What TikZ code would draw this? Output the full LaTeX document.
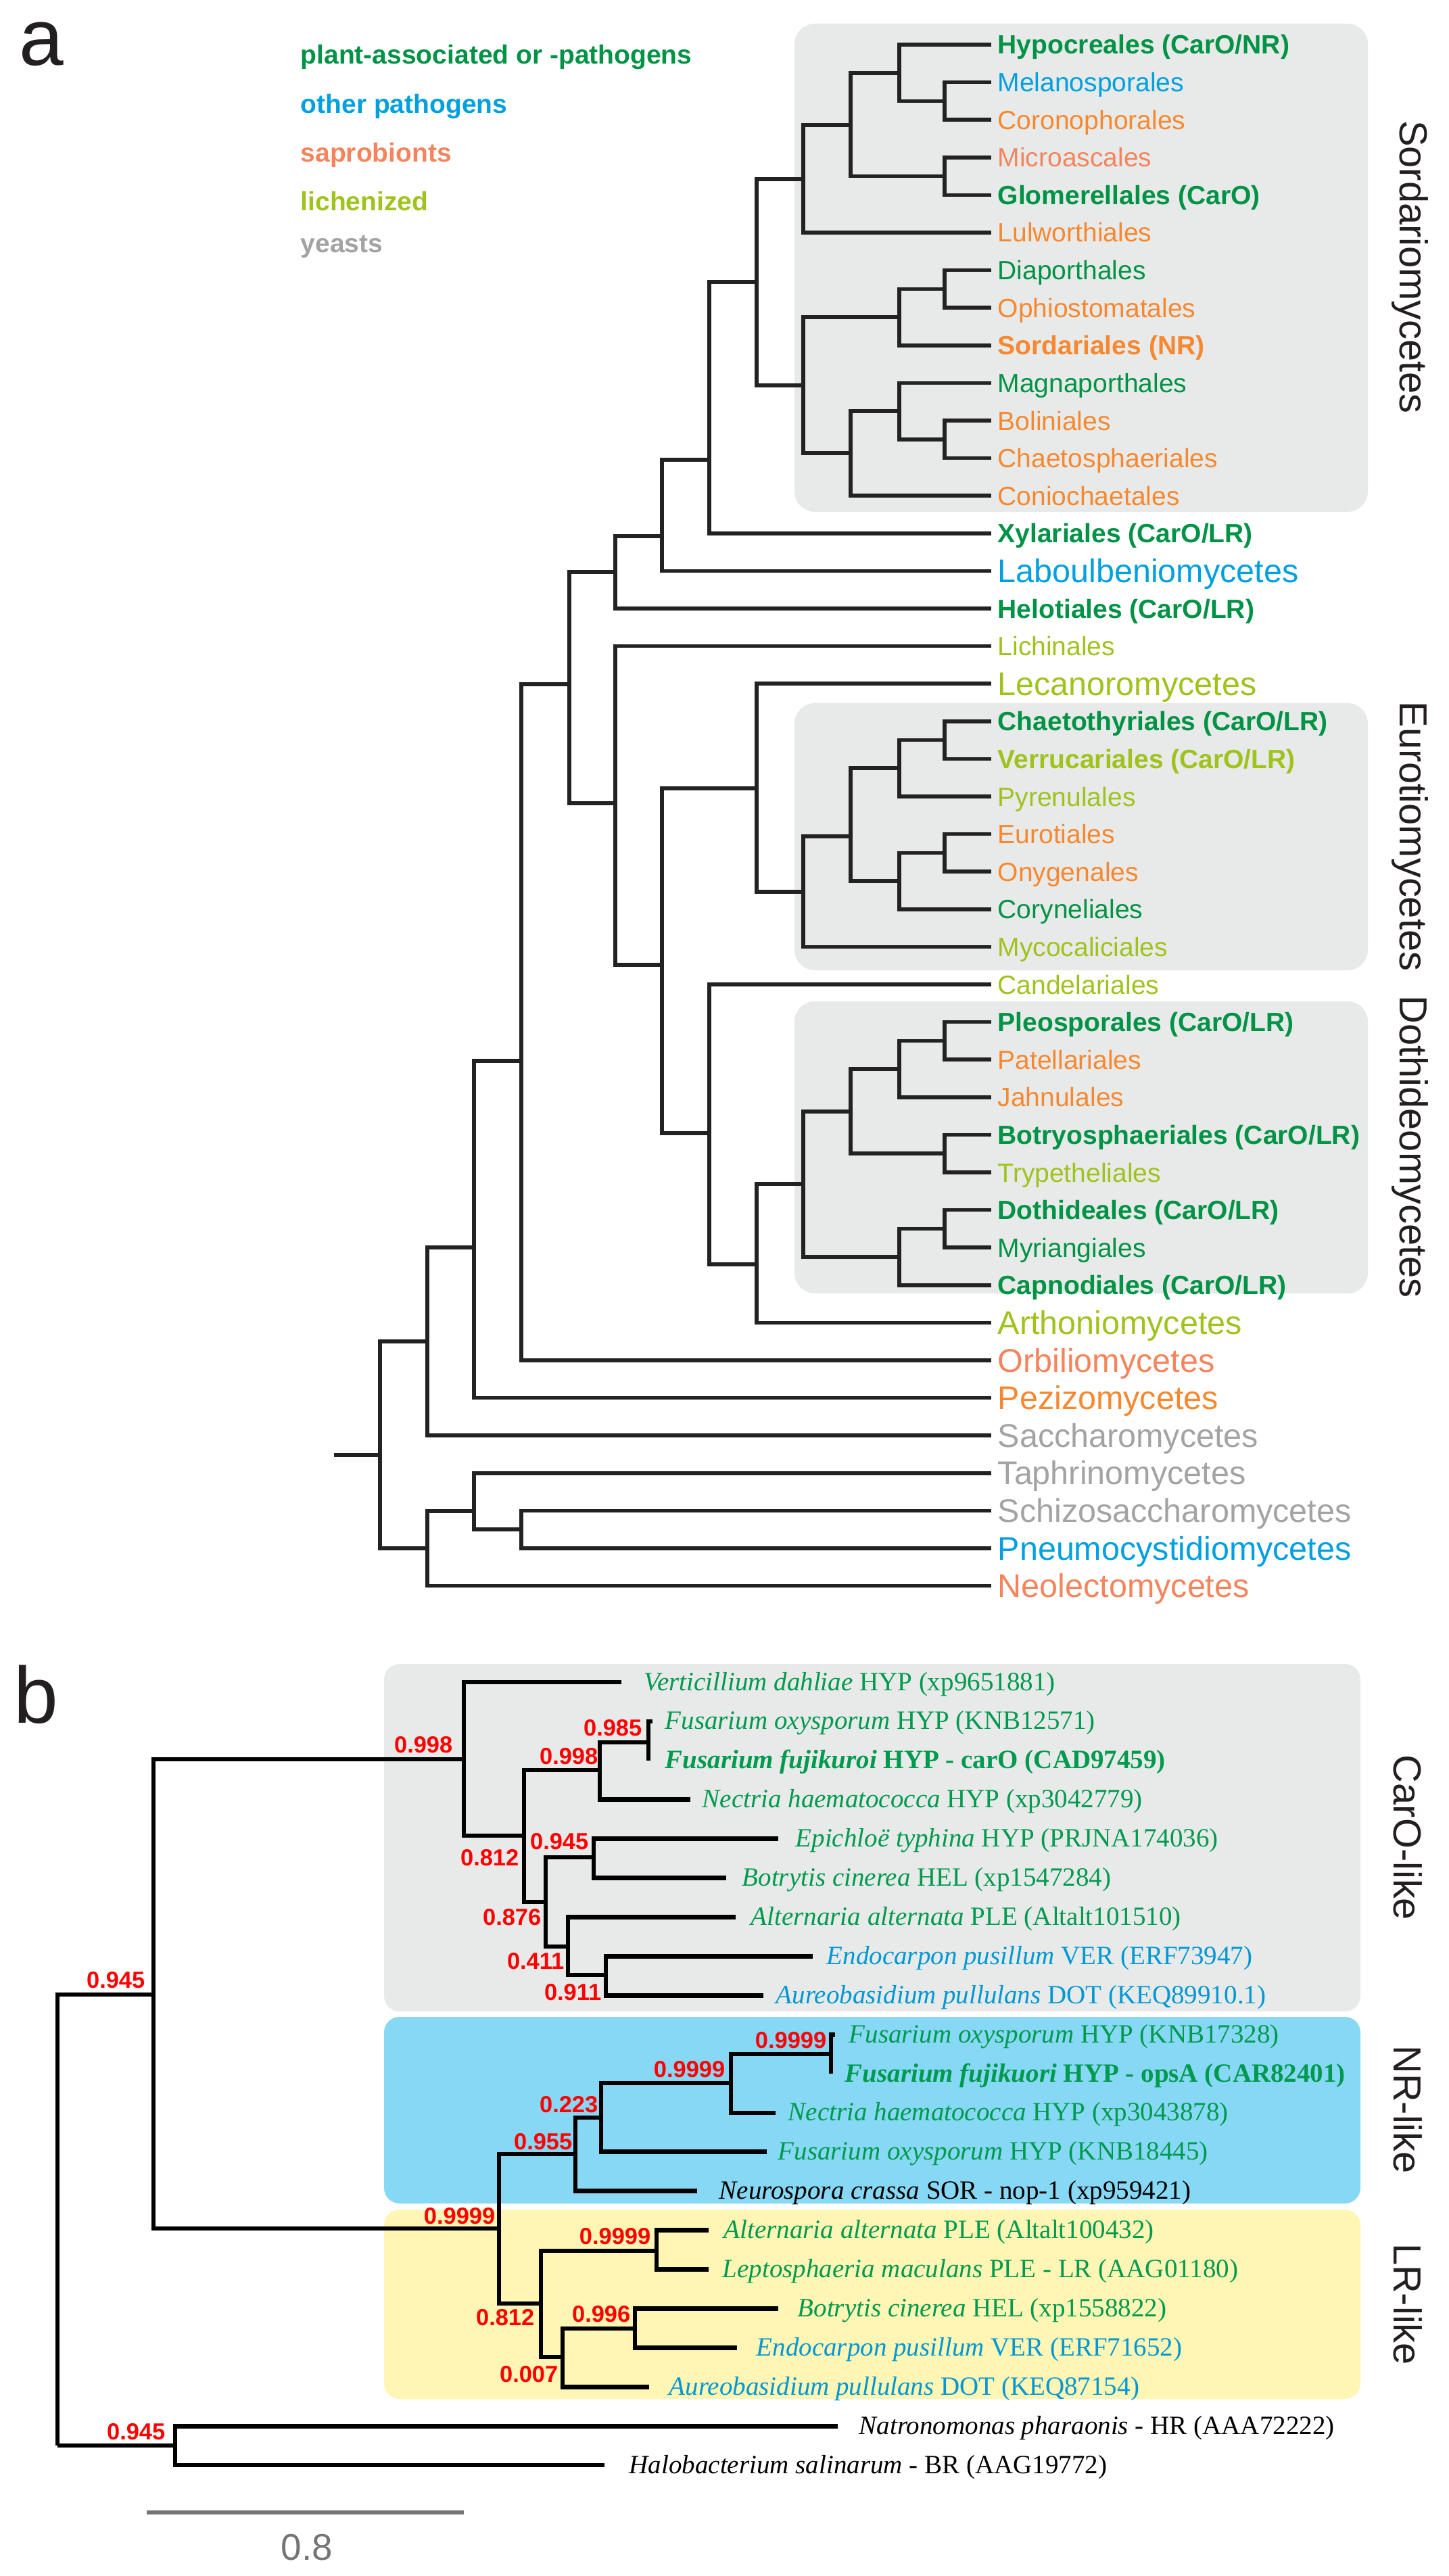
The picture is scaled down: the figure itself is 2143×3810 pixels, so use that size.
\documentclass[tikz,border=0pt]{standalone}
\usepackage{fontspec}
\setmainfont{Liberation Serif}
\newfontfamily\arialf{Liberation Sans}
\definecolor{cgreen}{HTML}{009245}
\definecolor{cblue}{HTML}{00A0DF}
\definecolor{corange}{HTML}{F7882F}
\definecolor{csalmon}{HTML}{F5845C}
\definecolor{clichen}{HTML}{9FC31C}
\definecolor{cyeast}{HTML}{A3A3A3}
\definecolor{bgreen}{HTML}{009A4E}
\definecolor{bblue}{HTML}{0098D4}
\definecolor{boxgray}{HTML}{E8EAE9}
\definecolor{boxblue}{HTML}{87D8F5}
\definecolor{boxyellow}{HTML}{FFF5B4}
\definecolor{treegray}{HTML}{222222}
\definecolor{darktext}{HTML}{231F20}
\definecolor{scalegray}{HTML}{757575}
\newcommand{\aleaf}[4]{\coordinate (a#1) at (1466,#2); \node[#3] (la#1) at (1475,#2) {#4};}
\newcommand{\bleaf}[6]{\coordinate (b#1) at (#2,#3); \node[#5] (lb#1) at (#4,#3) {#6};}
\begin{document}
\begin{tikzpicture}[x=0.1mm,y=-0.1mm,
  treeA/.style={line width=0.56mm, draw=treegray},
  treeB/.style={line width=0.68mm, draw=black},
  ordA/.style={anchor=base west, inner sep=0pt, yshift=-1.4mm, font=\arialf\fontsize{11.1}{13}\selectfont},
  ordAb/.style={anchor=base west, inner sep=0pt, yshift=-1.4mm, font=\arialf\bfseries\fontsize{11.1}{13}\selectfont},
  clsA/.style={anchor=base west, inner sep=0pt, yshift=-1.7mm, font=\arialf\fontsize{13.8}{16}\selectfont},
  legA/.style={anchor=base west, inner sep=0pt, font=\arialf\bfseries\fontsize{11.1}{13}\selectfont},
  grpA/.style={rotate=-90, anchor=base, inner sep=0pt, text=darktext, font=\arialf\fontsize{16.45}{19}\selectfont},
  panel/.style={anchor=base west, inner sep=0pt, text=darktext, font=\arialf\fontsize{33.6}{40}\selectfont},
  lbB/.style={anchor=base west, inner sep=0pt, yshift=-1.2mm, font=\fontsize{11.1}{13}\selectfont},
  lbBb/.style={anchor=base west, inner sep=0pt, yshift=-1.2mm, font=\bfseries\fontsize{11.1}{13}\selectfont},
  bs/.style={anchor=east, inner sep=0pt, text=red, font=\arialf\bfseries\fontsize{9.8}{11}\selectfont}
]
\useasboundingbox (0,0) rectangle (2143,3810);

% ---------------- panel a ----------------
\fill[boxgray, rounded corners=3mm] (1175,35) rectangle (2023,757);
\fill[boxgray, rounded corners=3mm] (1175,1040) rectangle (2023,1435);
\fill[boxgray, rounded corners=3mm] (1175,1481) rectangle (2023,1913);

\node[panel] (pa) at (28,97) {a};
\node[legA, text=cgreen] (leg1) at (444,95) {plant-associated or -pathogens};
\node[legA, text=cblue] (leg2) at (444,168) {other pathogens};
\node[legA, text=csalmon] (leg3) at (444,240) {saprobionts};
\node[legA, text=clichen] (leg4) at (444,312) {lichenized};
\node[legA, text=cyeast] (leg5) at (444,374) {yeasts};

\aleaf{0}{66.0}{ordAb,text=cgreen}{Hypocreales (CarO/NR)}
\aleaf{1}{121.6}{ordA,text=cblue}{Melanosporales}
\aleaf{2}{177.2}{ordA,text=corange}{Coronophorales}
\aleaf{3}{232.8}{ordA,text=csalmon}{Microascales}
\aleaf{4}{288.4}{ordAb,text=cgreen}{Glomerellales (CarO)}
\aleaf{5}{344.0}{ordA,text=corange}{Lulworthiales}
\aleaf{6}{399.6}{ordA,text=cgreen}{Diaporthales}
\aleaf{7}{455.2}{ordA,text=corange}{Ophiostomatales}
\aleaf{8}{510.8}{ordAb,text=corange}{Sordariales (NR)}
\aleaf{9}{566.4}{ordA,text=cgreen}{Magnaporthales}
\aleaf{10}{622.0}{ordA,text=corange}{Boliniales}
\aleaf{11}{677.6}{ordA,text=corange}{Chaetosphaeriales}
\aleaf{12}{733.2}{ordA,text=corange}{Coniochaetales}
\aleaf{13}{788.8}{ordAb,text=cgreen}{Xylariales (CarO/LR)}
\aleaf{14}{844.4}{clsA,text=cblue}{Laboulbeniomycetes}
\aleaf{15}{900.0}{ordAb,text=cgreen}{Helotiales (CarO/LR)}
\aleaf{16}{955.6}{ordA,text=clichen}{Lichinales}
\aleaf{17}{1011.2}{clsA,text=clichen}{Lecanoromycetes}
\aleaf{18}{1066.8}{ordAb,text=cgreen}{Chaetothyriales (CarO/LR)}
\aleaf{19}{1122.4}{ordAb,text=clichen}{Verrucariales (CarO/LR)}
\aleaf{20}{1178.0}{ordA,text=clichen}{Pyrenulales}
\aleaf{21}{1233.6}{ordA,text=corange}{Eurotiales}
\aleaf{22}{1289.2}{ordA,text=corange}{Onygenales}
\aleaf{23}{1344.8}{ordA,text=cgreen}{Coryneliales}
\aleaf{24}{1400.4}{ordA,text=clichen}{Mycocaliciales}
\aleaf{25}{1456.0}{ordA,text=clichen}{Candelariales}
\aleaf{26}{1511.6}{ordAb,text=cgreen}{Pleosporales (CarO/LR)}
\aleaf{27}{1567.2}{ordA,text=corange}{Patellariales}
\aleaf{28}{1622.8}{ordA,text=corange}{Jahnulales}
\aleaf{29}{1678.4}{ordAb,text=cgreen}{Botryosphaeriales (CarO/LR)}
\aleaf{30}{1734.0}{ordA,text=clichen}{Trypetheliales}
\aleaf{31}{1789.6}{ordAb,text=cgreen}{Dothideales (CarO/LR)}
\aleaf{32}{1845.2}{ordA,text=cgreen}{Myriangiales}
\aleaf{33}{1900.8}{ordAb,text=cgreen}{Capnodiales (CarO/LR)}
\aleaf{34}{1956.4}{clsA,text=clichen}{Arthoniomycetes}
\aleaf{35}{2012.0}{clsA,text=csalmon}{Orbiliomycetes}
\aleaf{36}{2067.6}{clsA,text=corange}{Pezizomycetes}
\aleaf{37}{2123.2}{clsA,text=cyeast}{Saccharomycetes}
\aleaf{38}{2178.8}{clsA,text=cyeast}{Taphrinomycetes}
\aleaf{39}{2234.4}{clsA,text=cyeast}{Schizosaccharomycetes}
\aleaf{40}{2290.0}{clsA,text=cblue}{Pneumocystidiomycetes}
\aleaf{41}{2345.6}{clsA,text=csalmon}{Neolectomycetes}

\coordinate (nMC) at (1397,149.4);
\coordinate (nHMC) at (1330,108);
\coordinate (nMG) at (1397,260.6);
\coordinate (nS3) at (1258,185);
\coordinate (nS2) at (1188,265);
\coordinate (nDO) at (1397,427.4);
\coordinate (nDOS) at (1330,469);
\coordinate (nBC) at (1397,649.8);
\coordinate (nMBC) at (1330,608);
\coordinate (nMBCC) at (1258,670);
\coordinate (nS2b) at (1188,570);
\coordinate (nA) at (1119,417);
\coordinate (nB) at (1049,680);
\coordinate (nC) at (979,793);
\coordinate (nD) at (910,846);
\coordinate (nCV) at (1397,1094.6);
\coordinate (nCVP) at (1330,1136);
\coordinate (nEO) at (1397,1261.4);
\coordinate (nEOC) at (1330,1303);
\coordinate (nE3) at (1258,1237);
\coordinate (nE2) at (1188,1319);
\coordinate (nE1) at (1119,1166);
\coordinate (nPP) at (1397,1539.4);
\coordinate (nPPJ) at (1330,1581);
\coordinate (nBT) at (1397,1706.2);
\coordinate (nD3) at (1258,1644);
\coordinate (nDM) at (1397,1817.4);
\coordinate (nDMC) at (1330,1859);
\coordinate (nD2) at (1188,1751);
\coordinate (nD1) at (1119,1870);
\coordinate (nF) at (1049,1676);
\coordinate (nG) at (979,1427);
\coordinate (nH) at (910,1188);
\coordinate (nI) at (842,1012);
\coordinate (nJ) at (771,1569);
\coordinate (nK) at (701,1845);
\coordinate (nL) at (632,1984);
\coordinate (nSP) at (771,2262);
\coordinate (nTSP) at (701,2235);
\coordinate (nN) at (632,2290);
\coordinate (nR) at (562,2152);
\coordinate (nStub) at (494,2152);

\begin{scope}[treeA]
\draw (a1) -| (nMC); \draw (a2) -| (nMC);
\draw (a0) -| (nHMC); \draw (nMC) -| (nHMC);
\draw (a3) -| (nMG); \draw (a4) -| (nMG);
\draw (nHMC) -| (nS3); \draw (nMG) -| (nS3);
\draw (nS3) -| (nS2); \draw (a5) -| (nS2);
\draw (a6) -| (nDO); \draw (a7) -| (nDO);
\draw (nDO) -| (nDOS); \draw (a8) -| (nDOS);
\draw (a10) -| (nBC); \draw (a11) -| (nBC);
\draw (a9) -| (nMBC); \draw (nBC) -| (nMBC);
\draw (nMBC) -| (nMBCC); \draw (a12) -| (nMBCC);
\draw (nDOS) -| (nS2b); \draw (nMBCC) -| (nS2b);
\draw (nS2) -| (nA); \draw (nS2b) -| (nA);
\draw (nA) -| (nB); \draw (a13) -| (nB);
\draw (nB) -| (nC); \draw (a14) -| (nC);
\draw (nC) -| (nD); \draw (a15) -| (nD);
\draw (a18) -| (nCV); \draw (a19) -| (nCV);
\draw (nCV) -| (nCVP); \draw (a20) -| (nCVP);
\draw (a21) -| (nEO); \draw (a22) -| (nEO);
\draw (nEO) -| (nEOC); \draw (a23) -| (nEOC);
\draw (nCVP) -| (nE3); \draw (nEOC) -| (nE3);
\draw (nE3) -| (nE2); \draw (a24) -| (nE2);
\draw (a17) -| (nE1); \draw (nE2) -| (nE1);
\draw (a26) -| (nPP); \draw (a27) -| (nPP);
\draw (nPP) -| (nPPJ); \draw (a28) -| (nPPJ);
\draw (a29) -| (nBT); \draw (a30) -| (nBT);
\draw (nPPJ) -| (nD3); \draw (nBT) -| (nD3);
\draw (a31) -| (nDM); \draw (a32) -| (nDM);
\draw (nDM) -| (nDMC); \draw (a33) -| (nDMC);
\draw (nD3) -| (nD2); \draw (nDMC) -| (nD2);
\draw (nD2) -| (nD1); \draw (a34) -| (nD1);
\draw (a25) -| (nF); \draw (nD1) -| (nF);
\draw (nE1) -| (nG); \draw (nF) -| (nG);
\draw (a16) -| (nH); \draw (nG) -| (nH);
\draw (nD) -| (nI); \draw (nH) -| (nI);
\draw (nI) -| (nJ); \draw (a35) -| (nJ);
\draw (nJ) -| (nK); \draw (a36) -| (nK);
\draw (nK) -| (nL); \draw (a37) -| (nL);
\draw (a39) -| (nSP); \draw (a40) -| (nSP);
\draw (a38) -| (nTSP); \draw (nSP) -| (nTSP);
\draw (nTSP) -| (nN); \draw (a41) -| (nN);
\draw (nL) -| (nR); \draw (nN) -| (nR);
\draw (nStub) -- (nR);
\end{scope}

\node[grpA] (gS) at (2070,395) {Sordariomycetes};
\node[grpA] (gE) at (2070,1237) {Eurotiomycetes};
\node[grpA] (gD) at (2070,1696) {Dothideomycetes};

% ---------------- panel b ----------------
\fill[boxgray, rounded corners=2.3mm] (568,2461) rectangle (2012,2975);
\fill[boxblue, rounded corners=2.3mm] (568,2983) rectangle (2012,3259);
\fill[boxyellow, rounded corners=2.3mm] (568,3268) rectangle (2012,3548);

\node[panel] (pb) at (20,2548) {b};

\bleaf{0}{919}{2488.0}{952}{lbB,text=bgreen}{\textit{Verticillium dahliae} HYP (xp9651881)}
\bleaf{1}{965}{2545.9}{983}{lbB,text=bgreen}{\textit{Fusarium oxysporum} HYP (KNB12571)}
\bleaf{2}{959}{2603.8}{983}{lbBb,text=bgreen}{\textit{Fusarium fujikuroi} HYP - carO (CAD97459)}
\bleaf{3}{1021}{2661.7}{1038}{lbB,text=bgreen}{\textit{Nectria haematococca} HYP (xp3042779)}
\bleaf{4}{1151}{2719.6}{1176}{lbB,text=bgreen}{\textit{Epichloë typhina} HYP (PRJNA174036)}
\bleaf{5}{1074}{2777.5}{1097}{lbB,text=bgreen}{\textit{Botrytis cinerea} HEL (xp1547284)}
\bleaf{6}{1088}{2835.4}{1110}{lbB,text=bgreen}{\textit{Alternaria alternata} PLE (Altalt101510)}
\bleaf{7}{1202}{2893.3}{1222}{lbB,text=bblue}{\textit{Endocarpon pusillum} VER (ERF73947)}
\bleaf{8}{1129}{2951.2}{1147}{lbB,text=bblue}{\textit{Aureobasidium pullulans} DOT (KEQ89910.1)}
\bleaf{9}{1235}{3009.1}{1255}{lbB,text=bgreen}{\textit{Fusarium oxysporum} HYP (KNB17328)}
\bleaf{10}{1229}{3067.0}{1249}{lbBb,text=bgreen}{\textit{Fusarium fujikuori} HYP - opsA (CAR82401)}
\bleaf{11}{1147}{3124.9}{1165}{lbB,text=bgreen}{\textit{Nectria haematococca} HYP (xp3043878)}
\bleaf{12}{1134}{3182.8}{1150}{lbB,text=bgreen}{\textit{Fusarium oxysporum} HYP (KNB18445)}
\bleaf{13}{1031}{3240.7}{1063}{lbB,text=black}{\textit{Neurospora crassa} SOR - nop-1 (xp959421)}
\bleaf{14}{1048}{3298.6}{1070}{lbB,text=bgreen}{\textit{Alternaria alternata} PLE (Altalt100432)}
\bleaf{15}{1048}{3356.5}{1068}{lbB,text=bgreen}{\textit{Leptosphaeria maculans} PLE - LR (AAG01180)}
\bleaf{16}{1151}{3414.4}{1179}{lbB,text=bgreen}{\textit{Botrytis cinerea} HEL (xp1558822)}
\bleaf{17}{1090}{3472.3}{1118}{lbB,text=bblue}{\textit{Endocarpon pusillum} VER (ERF71652)}
\bleaf{18}{960}{3530.2}{989}{lbB,text=bblue}{\textit{Aureobasidium pullulans} DOT (KEQ87154)}
\bleaf{19}{1239}{3588.1}{1270}{lbB,text=black}{\textit{Natronomonas pharaonis} - HR (AAA72222)}
\bleaf{20}{894}{3646.0}{930}{lbB,text=black}{\textit{Halobacterium salinarum} - BR (AAG19772)}

\coordinate (bFF) at (959,2577);
\coordinate (bN1) at (887,2618);
\coordinate (bV) at (686,2602);
\coordinate (bC2) at (775,2715);
\coordinate (bC3) at (807,2813);
\coordinate (bEB) at (878,2747);
\coordinate (bC4) at (840,2879);
\coordinate (bEA) at (896,2921);
\coordinate (bNRp) at (1229,3038);
\coordinate (bNR1) at (1081,3081);
\coordinate (bNR2) at (889,3132);
\coordinate (bNR3) at (851,3186);
\coordinate (bNRLR) at (738,3296);
\coordinate (bLR1) at (800,3407);
\coordinate (bAL) at (971,3329);
\coordinate (bLR2) at (832,3486);
\coordinate (bBE) at (939,3444);
\coordinate (bM) at (227,2950);
\coordinate (bOut) at (259,3617);
\coordinate (bRoot) at (85,3617);

\begin{scope}[treeB]
\draw (b1) -| (bFF); \draw (b2) -| (bFF);
\draw (bFF) -| (bN1); \draw (b3) -| (bN1);
\draw (b0) -| (bV); \draw (bC2) -| (bV);
\draw (bN1) -| (bC2); \draw (bC3) -| (bC2);
\draw (bEB) -| (bC3); \draw (bC4) -| (bC3);
\draw (b4) -| (bEB); \draw (b5) -| (bEB);
\draw (b6) -| (bC4); \draw (bEA) -| (bC4);
\draw (b7) -| (bEA); \draw (b8) -| (bEA);
\draw (b9) -| (bNRp); \draw (b10) -| (bNRp);
\draw (bNRp) -| (bNR1); \draw (b11) -| (bNR1);
\draw (bNR1) -| (bNR2); \draw (b12) -| (bNR2);
\draw (bNR2) -| (bNR3); \draw (b13) -| (bNR3);
\draw (bNR3) -| (bNRLR); \draw (bLR1) -| (bNRLR);
\draw (bAL) -| (bLR1); \draw (bLR2) -| (bLR1);
\draw (b14) -| (bAL); \draw (b15) -| (bAL);
\draw (bBE) -| (bLR2); \draw (b18) -| (bLR2);
\draw (b16) -| (bBE); \draw (b17) -| (bBE);
\draw (bV) -| (bM); \draw (bNRLR) -| (bM);
\draw (b19) -| (bOut); \draw (b20) -| (bOut);
\draw (bM) -| (bRoot); \draw (bOut) -| (bRoot);
\end{scope}

\node[bs] (s1) at (670,2581) {0.998};
\node[bs] (s2) at (885,2598) {0.998};
\node[bs] (s3) at (950,2556) {0.985};
\node[bs] (s4) at (768,2748) {0.812};
\node[bs] (s5) at (801,2836) {0.876};
\node[bs] (s6) at (871,2724) {0.945};
\node[bs] (s7) at (835,2901) {0.411};
\node[bs] (s8) at (890,2947) {0.911};
\node[bs] (s9) at (1223,3018) {0.9999};
\node[bs] (s10) at (1073,3061) {0.9999};
\node[bs] (s11) at (885,3113) {0.223};
\node[bs] (s12) at (847,3168) {0.955};
\node[bs] (s13) at (733,3278) {0.9999};
\node[bs] (s14) at (791,3428) {0.812};
\node[bs] (s15) at (963,3308) {0.9999};
\node[bs] (s16) at (826,3512) {0.007};
\node[bs] (s17) at (933,3423) {0.996};
\node[bs] (s18) at (215,2929) {0.945};
\node[bs] (s19) at (245,3597) {0.945};

\node[grpA] (gC) at (2061,2718) {CarO-like};
\node[grpA] (gN) at (2061,3120) {NR-like};
\node[grpA] (gL) at (2061,3408) {LR-like};

\coordinate (sb1) at (217,3716);
\coordinate (sb2) at (686,3716);
\draw[line width=0.6mm, scalegray] (sb1) -- (sb2);
\node[anchor=base, inner sep=0pt, text=scalegray, font=\arialf\fontsize{15.6}{18}\selectfont] (sbl) at (454,3786) {0.8};
\end{tikzpicture}
\end{document}
